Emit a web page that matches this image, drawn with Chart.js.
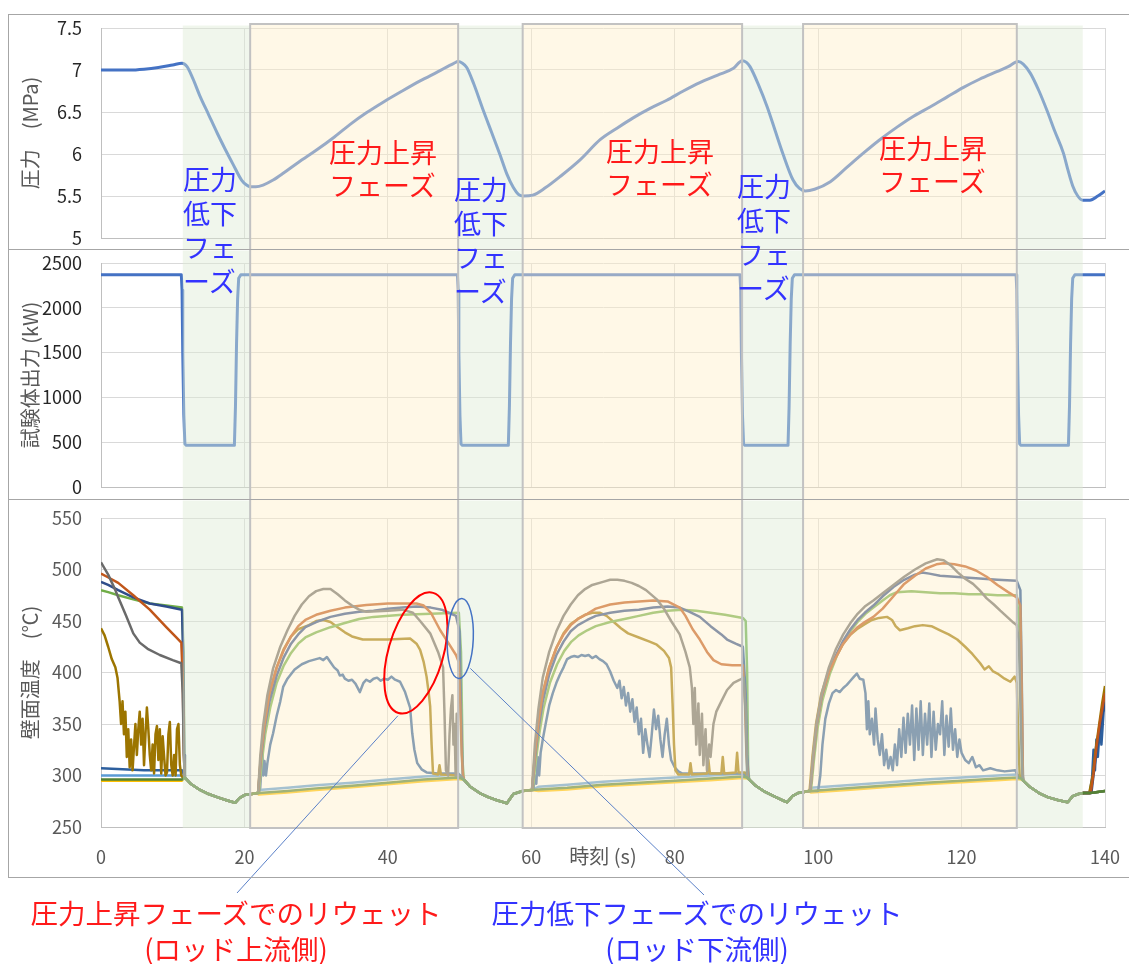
<!DOCTYPE html>
<html lang="ja">
<head>
<meta charset="UTF-8">
<title>圧力・試験体出力・壁面温度の時間変化</title>
<script src="https://cdn.jsdelivr.net/npm/chart.js"></script>
<style>
  body { margin: 0; background: #fff; width: 1129px; height: 964px; overflow: hidden; position: relative;
         font-family: 'Noto Sans CJK JP', 'Noto Sans', sans-serif; }
  canvas { position: absolute; left: 0; }
  .frame { position: absolute; left: 8px; width: 1130px; border: 1px solid #a6a6a6; box-sizing: border-box; pointer-events: none; }
  .note { position: absolute; font-size: 27px; white-space: pre; }
  .blue { color: #3333ff; line-height: 34px; }
  .red { color: #ff1a1a; line-height: 33px; }
  .caption { position: absolute; font-size: 27.5px; line-height: 36px; text-align: center; white-space: pre; }
</style>
</head>
<body>
<canvas id="pressureChart" width="1129" height="235" style="top:14px"></canvas>
<canvas id="powerChart" width="1129" height="250" style="top:249px"></canvas>
<canvas id="tempChart" width="1129" height="465" style="top:499px"></canvas>

<div class="frame" style="top:14px;height:236px;border-bottom:none"></div>
<div class="frame" style="top:249px;height:251px;border-bottom:none"></div>
<div class="frame" style="top:499px;height:379px"></div>

<div class="note red" style="left:329px;top:135px">圧力上昇
フェーズ</div>
<div class="note red" style="left:606px;top:134px">圧力上昇
フェーズ</div>
<div class="note red" style="left:879px;top:131px">圧力上昇
フェーズ</div>
<div class="note blue" style="left:183px;top:162px">圧力
低下
フェ
ーズ</div>
<div class="note blue" style="left:454px;top:172px">圧力
低下
フェ
ーズ</div>
<div class="note blue" style="left:737px;top:169px">圧力
低下
フェ
ーズ</div>

<div class="caption" style="left:-1px;width:474px;top:894px;color:#ff1a1a">圧力上昇フェーズでのリウェット
(ロッド上流側)</div>
<div class="caption" style="left:447px;width:500px;top:894px;color:#3333ff">圧力低下フェーズでのリウェット
(ロッド下流側)</div>

<script>
// phase boundaries (s)
const dropPhases = [[11.4, 20.8], [49.8, 58.8], [89.4, 97.9], [127.7, 136.9]];
const risePhases = [[20.8, 49.8], [58.8, 89.4], [97.9, 127.7]];

// pressure (MPa)
const pressure = [[0,7.0],[4,7.0],[6,7.01],[8,7.03],[10,7.06],[11.3,7.08],[12,7.04],[12.8,6.9],[13.8,6.69],[15,6.47],
  [16.2,6.25],[17.3,6.06],[18.4,5.88],[19.6,5.69],[20.3,5.63],[20.8,5.61],[21.6,5.61],[22.6,5.63],[24,5.69],[25.4,5.77],
  [27.5,5.9],[30.1,6.05],[32.5,6.2],[34.7,6.35],[37,6.49],[39.4,6.62],[42,6.75],[44.5,6.87],[47,6.98],[49.2,7.08],[49.8,7.1],
  [50.4,7.08],[51,7.03],[52,6.83],[53.3,6.52],[54.5,6.25],[55.6,6.0],[56.6,5.76],[57.5,5.6],[58.2,5.52],[58.9,5.5],
  [60.2,5.51],[62,5.6],[64,5.73],[66.8,5.93],[69.6,6.17],[72,6.31],[74.2,6.43],[76.5,6.54],[78.9,6.64],[81.2,6.75],
  [83.5,6.85],[86,6.94],[88.2,7.02],[89.4,7.11],[90,7.09],[90.5,7.04],[91.7,6.82],[92.9,6.56],[94,6.28],[95.1,6.0],
  [96.5,5.69],[97.4,5.59],[98.2,5.56],[99.5,5.58],[101.7,5.67],[104,5.84],[106.3,6.01],[108.6,6.17],[111,6.32],
  [113.3,6.45],[115.6,6.56],[118,6.68],[120.2,6.79],[122.5,6.89],[124.9,6.98],[126.5,7.04],[127.9,7.1],[128.6,7.07],
  [129.6,6.96],[130.8,6.75],[131.9,6.52],[133,6.27],[134.2,6.01],[134.8,5.82],[135.5,5.62],[136.2,5.5],[136.9,5.45],
  [137.9,5.45],[139,5.5],[140,5.56]];

// test section power (kW)
const power = [[0,2370],[11.2,2370],[11.3,2200],[11.4,1500],[11.55,800],[11.7,480],[11.9,465],[18.6,465],[18.75,900],
  [18.9,1600],[19.05,2100],[19.2,2330],[19.5,2370],[49.7,2370],[49.8,2200],[49.9,1500],[50.05,800],[50.2,480],[50.4,465],
  [56.8,465],[56.95,900],[57.1,1600],[57.25,2100],[57.4,2330],[57.7,2370],[89.1,2370],[89.2,2200],[89.3,1500],[89.45,800],
  [89.6,480],[89.8,465],[95.8,465],[95.95,900],[96.1,1600],[96.25,2100],[96.4,2330],[96.7,2370],[127.6,2370],[127.7,2200],
  [127.8,1500],[127.95,800],[128.1,480],[128.3,465],[134.9,465],[135.05,900],[135.2,1600],[135.35,2100],[135.5,2330],
  [135.8,2370],[140,2370]];

// wall temperature (°C): shared cool-down and baseline stretches
const coolDown1 = [[11.7,298],[12.5,292],[13.8,286],[15,282],[16.2,279],[17.5,276],[18.7,273.5],[19.3,278],[20,281],[21,282],[21.8,283]];
const base1 = [[22,283],[26,285],[30,287.5],[35,290],[40,293],[45,296],[49.8,298],[50.3,297]];
const coolDown2 = [[50.6,296],[51.5,289],[52.8,283],[54,279],[55.2,276],[56.6,273],[57.5,282],[58.8,285],[60,286]];
const base2 = [[61,286.5],[65,288],[70,291],[75,293],[80,295],[85,297],[89.5,299],[90.1,298]];
const coolDown3 = [[90.4,296],[91.3,290],[92.6,284],[93.8,280],[95,276],[95.7,274],[96.4,280],[97.2,283],[98,284],[98.7,285]];
const base3 = [[99,285],[105,288],[110,290.5],[115,293],[120,295],[125,297],[127.7,298],[128.3,297]];
const coolDown4 = [[128.6,295],[129.5,289],[130.8,283],[132,279],[133.5,276],[134.8,274],[135.5,280],[136.3,282],[137,283],[137.8,283]];
const base4 = [[138.5,283.5],[140,285]];

const lightBlueStart = [[0,300],[11.3,300]];
const lightBlue1 = [[22,286],[26,288],[30,290.5],[35,293],[40,296],[45,299],[49.8,301],[50.3,299]];
const lightBlue2 = [[61,289],[65,291],[70,294],[75,296],[80,298],[85,300],[89.5,302],[90.1,300]];
const lightBlue3 = [[99,288],[105,291],[110,293.5],[115,296],[120,298],[125,300],[127.7,301],[128.3,299]];
const darkGreenStart = [[0,296],[11.3,296]];
const yellowStart = [[0,295],[11.3,295]];
const yellowLow1 = [[22,281.5],[26,283.5],[30,286],[35,288.5],[40,291.5],[45,294.5],[49.8,296.5],[50.3,296]];
const yellowLow2 = [[61,285],[65,286.5],[70,289.5],[75,291.5],[80,293.5],[85,295.5],[89.5,297.5],[90.1,297]];
const yellowLow3 = [[99,283.5],[105,286.5],[110,289],[115,291.5],[120,293.5],[125,295.5],[127.7,296.5],[128.3,296]];

const grayStart = [[0,507],[1,495],[2,480],[2.4,473],[3.5,455],[4.5,438],[5.4,429],[6.5,423],[8.2,417],[10,412],[11.2,409],[11.4,380],[11.55,320]];
const grayRise1 = [[21.9,283],[22.2,318],[22.6,348],[23.2,378],[24,404],[25,425],[26,441],[27,455],[28,466],[29,474],[30,479],
  [31,481],[32,481],[33,476],[34,470],[35,465],[36,461],[37,459],[40,460],[42,461],[43.5,458],[44.5,450],[45.9,438],[47,420],
  [47.7,405],[47.9,360],[48.1,305],[48.4,300],[48.6,340],[48.8,365],[49,378],[49.15,330],[49.3,350],[49.45,300],[49.6,360],
  [49.75,300],[50.3,299]];
const grayRise2 = [[60.1,286],[60.5,330],[61,365],[61.6,395],[62.5,420],[63.5,440],[64.5,455],[65.5,466],[66.5,475],[67.5,481],
  [68.5,485],[70,488],[71,490],[72,490],[73,489],[74,487],[75,484],[76,480],[77.5,471],[78.5,462],[79.5,450],[80.7,437],
  [81.5,420],[82.1,405],[82.4,385],[82.6,350],[82.8,385],[83,330],[83.3,370],[83.5,320],[83.8,360],[84,310],[84.3,345],
  [84.5,305],[84.8,330],[85,318],[85.4,350],[85.8,362],[86.5,372],[87.3,383],[88.2,390],[89.1,393],[89.6,395],[89.9,360],[90.1,300]];
const grayRise3 = [[98.9,285],[99.3,320],[99.8,352],[100.5,380],[101.5,405],[102.5,423],[103.5,437],[104.5,448],[105.5,457],
  [106.5,464],[107.7,470],[109,477],[110.5,485],[112,493],[113.5,500],[115,506],[116.6,510],[117.5,509],[118.5,504],
  [119.5,497],[120.5,491],[121.6,486],[122.5,480],[123.5,472],[124.5,466],[125.4,460],[126.5,453],[127.3,448],[127.7,446],
  [128,430],[128.3,340],[128.5,300]];

const orangeStart = [[0,496],[1.1,492],[2.4,487],[4.5,475],[6.8,461],[9.1,444],[10.5,434],[11.2,429],[11.4,395],[11.55,320]];
const orangeRise1 = [[21.9,283],[22.3,320],[22.8,350],[23.5,380],[24.5,405],[25.5,422],[26.5,435],[27.5,445],[28.5,451],
  [30,456],[32,460],[34,463],[37,465.5],[40,467],[44,467],[45,465],[46,458],[47.3,441],[48.5,428],[49.5,417],[49.9,410],
  [50.1,370],[50.3,320],[50.5,298]];
const orangeRise2 = [[60.1,286],[60.5,320],[61,352],[61.6,380],[62.5,405],[63.5,424],[64.5,437],[65.5,446],[66.5,452],
  [67.8,457],[69,462],[71,466],[73,468],[75,469],[77,470],[79,469],[80.7,463],[81.5,455],[82.5,442],[83.5,432],[84.5,420],
  [85.4,412],[86.5,408],[88,407],[89.5,407],[89.8,370],[90,320],[90.2,298]];
const orangeRise3 = [[98.9,285],[99.3,318],[99.8,350],[100.5,378],[101.5,400],[102.5,415],[103.5,428],[104.5,437],[105.5,444],
  [106.5,449],[107.7,454],[109,462],[110.5,474],[112,486],[113.5,494],[115,501],[116.5,505],[117.5,506],[119,505],[120.5,503],
  [122,499],[123.5,493],[125,485],[126.5,478],[127.7,473],[128.2,465],[128.4,380],[128.55,300]];
const orangeTail = [[138,283],[138.4,302],[138.8,327],[139.3,352],[140,380]];

const darkBlueStart = [[0,488],[1,485],[2.4,480],[4.5,473],[6.8,467],[9.1,464],[11.3,461],[11.45,420],[11.6,320]];
const darkBlueRise1 = [[21.9,283],[22.3,315],[22.8,345],[23.5,372],[24.5,397],[25.5,415],[26.5,428],[27.5,437],[28.5,444],
  [30,449],[32,454],[34,457],[36,459],[38,460],[40,462],[42,463],[44,464],[46,463],[47.5,461],[48.5,458],[49.5,455],[50,440],
  [50.2,360],[50.45,298]];
const darkBlueRise2 = [[60.1,286],[60.5,315],[61,345],[61.6,372],[62.5,398],[63.5,417],[64.5,430],[65.5,440],[66.5,446],
  [67.8,451],[69,455],[71,458],[73,460],[75,461],[77,463],[79,464],[80.7,463],[82,459],[83.5,454],[85,445],[86.5,437],
  [87.3,432],[88.5,428],[89.5,425],[89.9,380],[90.1,320],[90.3,298]];
const darkBlueRise3 = [[98.9,285],[99.3,316],[99.8,348],[100.5,376],[101.5,400],[102.5,417],[103.5,431],[104.5,442],
  [105.5,451],[106.5,458],[107.7,465],[109,474],[110.5,483],[112,490],[113.5,495],[114.5,497],[115.5,496],[117,494],
  [119,493],[121,492],[123,491],[125,490],[127.7,489],[128.2,480],[128.4,390],[128.55,300]];
const darkBlueTail = [[138.1,283],[138.6,312],[139.1,338],[139.6,358],[140,372]];

const greenStart = [[0,480],[1,478],[2.4,475],[4.5,471],[6.8,467],[9.1,465],[11.3,463],[11.5,420],[11.62,320]];
const greenRise1 = [[22,283],[22.4,312],[22.9,340],[23.6,366],[24.5,390],[25.5,407],[26.5,419],[27.5,428],[28.5,434],
  [30,439],[32,444],[34,448],[36,452],[38,454],[42,456],[46,457],[49.9,458],[50.2,420],[50.45,310]];
const greenRise2 = [[60.2,286],[60.6,312],[61.1,340],[61.7,365],[62.6,390],[63.6,408],[64.6,421],[65.6,430],[66.6,436],
  [67.8,441],[69,445],[71,449],[73,452],[75,455],[77,458],[79,460],[81,461],[83,460],[85,458],[87,456],[89.5,453],
  [89.9,450],[90.1,400],[90.25,305]];
const greenRise3 = [[99,285],[99.4,314],[99.9,345],[100.6,373],[101.6,398],[102.6,416],[103.6,430],[104.6,441],[105.6,450],
  [106.6,457],[107.7,463],[109,470],[110,475],[111,478],[113,479],[115,478],[117,477],[119,477],[121,476],[123,476],
  [125,475],[127.7,475],[128.1,440],[128.3,360],[128.5,300]];

const goldStart = [[0,443],[0.5,436],[1,425],[1.5,413],[2,405],[2.3,395],[2.6,372],[2.8,350],[3,372],[3.2,340],[3.4,362],
  [3.6,318],[3.8,345],[4,308],[4.2,335],[4.4,305],[4.6,328],[4.8,350],[5,320],[5.2,345],[5.4,362],[5.6,330],[5.8,355],
  [6,310],[6.2,340],[6.4,366],[6.6,345],[6.8,320],[7,305],[7.2,330],[7.4,302],[7.6,340],[7.8,348],[8,315],[8.2,345],
  [8.4,302],[8.6,338],[8.8,318],[9,300],[9.2,303],[9.4,340],[9.6,352],[9.8,310],[10,300],[10.2,320],[10.4,300],[10.6,345],
  [10.8,350],[11,310],[11.2,300],[11.4,298]];
const goldRise1 = [[21.9,283],[22.3,318],[22.8,350],[23.5,380],[24.5,405],[25.5,423],[26.5,435],[27.5,442],[29,446],
  [30,450],[31,451],[32,449],[33,444],[34,439],[35,435],[36.5,432],[40,432],[43.1,433],[44,428],[44.5,422],[45,410],
  [45.4,396],[45.7,380],[45.9,367],[46.1,330],[46.3,302],[47,301],[47.2,310],[47.4,301],[49.8,300]];
const goldRise2 = [[60.1,286],[60.5,318],[61,350],[61.6,380],[62.5,405],[63.5,424],[64.5,438],[65.5,447],[66.5,452],
  [67.5,456],[68.5,458],[69.6,458],[70.5,455],[71.5,449],[72.5,443],[73.5,438],[75,434],[76.5,430],[77.5,427],[78.5,421],
  [79.2,414],[79.5,405],[79.7,370],[79.9,330],[80.1,305],[80.5,301],[82,301],[82.2,312],[82.4,301],[84.5,302],[84.7,315],
  [84.9,302],[86.5,302],[86.7,318],[86.9,302],[88.5,303],[88.7,322],[88.9,303],[89.8,303]];
const goldRise3 = [[98.8,285],[99.2,318],[99.7,350],[100.4,378],[101.4,400],[102.4,415],[103.4,427],[104.4,436],[105.4,442],
  [106.5,447],[107.5,451],[108.5,453],[109.6,454],[110.3,451],[110.8,445],[111.4,441],[112.5,443],[113.5,445],[114.6,446],
  [115.8,445],[117,441],[118.2,437],[119.4,432],[120.5,425],[121.5,418],[122.6,409],[123.2,403],[123.8,406],[124.4,401],
  [125,399],[126,394],[126.8,391],[127.4,396],[127.7,390],[127.9,340],[128.1,300],[128.4,299]];
const goldTail = [[137.9,283],[138.3,300],[138.7,325],[139.2,350],[139.6,370],[140,387]];

const blueStart = [[0,307],[3,306],[6,305],[9,305],[11.3,305],[11.5,302]];
const blueRise1 = [[22,283],[22.2,288],[22.35,305],[22.5,320],[22.65,300],[22.8,314],[23,300],[23.2,312],[23.6,330],
  [24,341],[24.5,358],[25,372],[25.4,386],[26,394],[27,403],[28,408],[29,411],[30,413],[30.5,414],[31,412],[31.5,415],
  [32,410],[32.5,405],[33,402],[33.3,397],[33.7,398],[34,394],[34.5,392],[35,393],[35.5,389],[36.1,381],[36.6,390],
  [37,393],[37.5,391],[38,394],[38.5,395],[39,392],[39.5,394],[40,393],[40.5,396],[41,393],[41.7,391],[42.4,381],[43.1,366],
  [43.4,341],[43.7,325],[44.1,312],[44.7,306],[45.4,303],[47,302],[49.8,302]];
const blueRise2 = [[60.3,286],[60.5,300],[60.7,292],[60.9,318],[61.1,300],[61.3,322],[61.6,335],[62,350],[62.5,368],[63,380],
  [63.5,390],[64,398],[64.5,405],[65,413],[65.5,415],[66,416],[66.5,415],[67,417],[67.5,416],[68,417],[68.5,414],[69,416],
  [69.5,413],[70,411],[70.5,408],[71,401],[71.5,392],[72,385],[72.3,392],[72.6,375],[72.9,386],[73.2,368],[73.5,380],
  [73.8,362],[74.1,374],[74.4,352],[74.7,366],[75,340],[75.3,355],[75.6,322],[75.9,345],[76.2,330],[76.5,318],[76.8,340],
  [77.1,364],[77.4,345],[77.7,358],[78,335],[78.3,318],[78.6,340],[78.9,355],[79.2,330],[79.5,315],[80,308],[80.5,304],
  [81,302],[85,302],[89.5,302]];
const blueRise3 = [[100,285],[100.3,300],[100.6,330],[101,355],[101.5,370],[102,380],[102.5,383],[103,381],[103.5,385],
  [104,388],[104.5,392],[105,396],[105.4,399],[105.8,394],[106.3,393],[106.6,380],[106.8,345],[107,372],[107.2,340],
  [107.5,355],[107.8,330],[108,365],[108.3,335],[108.6,320],[108.9,340],[109.2,310],[109.5,325],[109.8,307],[110.1,318],
  [110.4,305],[110.7,330],[111,310],[111.3,345],[111.6,318],[111.9,356],[112.2,322],[112.5,360],[112.8,330],[113.1,368],
  [113.4,315],[113.7,365],[114,325],[114.3,372],[114.6,320],[114.9,360],[115.2,330],[115.5,370],[115.8,318],[116.1,362],
  [116.4,325],[116.7,350],[117,340],[117.3,372],[117.6,320],[117.9,358],[118.2,328],[118.5,365],[118.8,325],[119.1,345],
  [119.4,318],[119.7,335],[120,322],[120.5,315],[121,312],[121.5,318],[122,308],[122.5,310],[123,305],[124,307],[125,305],
  [126,304],[127.5,305],[127.8,300],[128.3,299]];
const blueTail = [[137.9,284],[138.2,298],[138.4,325],[138.6,305],[138.8,335],[139,318],[139.3,350],[139.5,330],[139.8,362],[140,368]];

// callout anchors in data units [time, temperature]
const upstreamRewet = [43.9, 419];
const downstreamRewet = [50.1, 433];
const upstreamLeader = [41.4, 358];
const downstreamLeader = [51.5, 404];

Chart.defaults.font.family = "'Noto Sans CJK JP', 'Noto Sans', sans-serif";
Chart.defaults.font.size = 18;

const toXY = pts => pts.map(([x, y]) => ({ x, y }));

// transparent phase overlays drawn over the traces, like the shaded boxes of the original
const phaseShade = {
  id: 'phaseShade',
  afterDatasetsDraw(chart, args, opts) {
    const { ctx, chartArea, scales: { x } } = chart;
    const top = opts.top;
    const bottom = opts.toArea ? chartArea.bottom + 1 : chart.height;
    ctx.save();
    ctx.fillStyle = 'rgba(222,235,213,0.45)';
    dropPhases.forEach(([a, b]) => {
      const x0 = x.getPixelForValue(a), x1 = x.getPixelForValue(b);
      ctx.fillRect(x0, top + 1.5, x1 - x0, bottom - top - 1.5);
    });
    ctx.fillStyle = 'rgba(255,239,202,0.45)';
    risePhases.forEach(([a, b]) => {
      const x0 = x.getPixelForValue(a), x1 = x.getPixelForValue(b);
      ctx.fillRect(x0, top, x1 - x0, bottom - top);
    });
    ctx.strokeStyle = '#c2c2c2';
    ctx.lineWidth = 2;
    risePhases.forEach(([a, b]) => {
      const x0 = x.getPixelForValue(a), x1 = x.getPixelForValue(b);
      ctx.beginPath();
      ctx.moveTo(x0, top); ctx.lineTo(x0, bottom);
      ctx.moveTo(x1, top); ctx.lineTo(x1, bottom);
      if (opts.topEdge) { ctx.moveTo(x0 - 1, top); ctx.lineTo(x1 + 1, top); }
      if (opts.toArea) { ctx.moveTo(x0 - 1, bottom); ctx.lineTo(x1 + 1, bottom); }
      ctx.stroke();
    });
    ctx.restore();
  }
};

const callouts = {
  id: 'callouts',
  afterDraw(chart) {
    const { ctx, scales: { x, y } } = chart;
    const offset = chart.canvas.offsetTop;
    ctx.save();
    ctx.strokeStyle = '#5a80c8';
    ctx.lineWidth = 1;
    ctx.beginPath();
    ctx.moveTo(x.getPixelForValue(upstreamLeader[0]), y.getPixelForValue(upstreamLeader[1]));
    ctx.lineTo(237, 893 - offset);
    ctx.moveTo(x.getPixelForValue(downstreamLeader[0]), y.getPixelForValue(downstreamLeader[1]));
    ctx.lineTo(704, 895 - offset);
    ctx.stroke();

    ctx.strokeStyle = '#ff0000';
    ctx.lineWidth = 2;
    ctx.beginPath();
    ctx.ellipse(x.getPixelForValue(upstreamRewet[0]), y.getPixelForValue(upstreamRewet[1]), 62.5, 27.5, -1.29, 0, Math.PI * 2);
    ctx.stroke();

    ctx.strokeStyle = '#4472c4';
    ctx.lineWidth = 1.5;
    ctx.beginPath();
    ctx.ellipse(x.getPixelForValue(downstreamRewet[0]), y.getPixelForValue(downstreamRewet[1]), 13, 40, 0.04, 0, Math.PI * 2);
    ctx.stroke();
    ctx.restore();
  }
};

function xAxis(showLabels) {
  const axis = {
    type: 'linear', min: 0, max: 140,
    ticks: { stepSize: 20, display: showLabels, color: '#595959', padding: 19, maxRotation: 0 },
    grid: { color: '#d9d9d9', drawTicks: false },
    border: { color: '#bfbfbf' },
    afterFit: s => { s.height = showLabels ? 50 : 0; s.paddingLeft = 0; s.paddingRight = 0; }
  };
  if (showLabels) {
    axis.title = { display: true, text: '時刻 (s)', color: '#595959', font: { size: 20 }, padding: { top: 0, bottom: 9 } };
  }
  return axis;
}

function yAxis(min, max, step, title, tickColor) {
  return {
    min, max,
    ticks: { stepSize: step, color: tickColor, padding: 19, callback: v => String(v) },
    grid: { color: '#d9d9d9', drawTicks: false },
    border: { color: '#bfbfbf' },
    title: { display: true, text: title, color: '#595959', font: { size: 20 }, padding: { top: 18, bottom: 0 } },
    afterFit: s => { s.width = 101; s.paddingTop = 0; s.paddingBottom = 0; }
  };
}

function baseOptions(padTop, padBottom, shade, xLabels, y) {
  return {
    responsive: false,
    animation: false,
    devicePixelRatio: 1,
    layout: { padding: { left: 0, right: 24, top: padTop, bottom: padBottom } },
    elements: { point: { radius: 0 }, line: { borderJoinStyle: 'round', cubicInterpolationMode: 'monotone' } },
    plugins: { legend: { display: false }, tooltip: { enabled: false }, phaseShade: shade },
    scales: { x: xAxis(xLabels), y }
  };
}

new Chart(document.getElementById('pressureChart'), {
  type: 'line',
  data: { datasets: [{ data: toXY(pressure), borderColor: '#4472c4', borderWidth: 3 }] },
  options: baseOptions(14, 11, { top: 10, topEdge: true }, false, yAxis(5, 7.5, 0.5, '圧力　(MPa)', '#262626')),
  plugins: [phaseShade]
});

new Chart(document.getElementById('powerChart'), {
  type: 'line',
  data: { datasets: [{ data: toXY(power), borderColor: '#4472c4', borderWidth: 3, cubicInterpolationMode: 'default', tension: 0 }] },
  options: baseOptions(14, 12, { top: 0 }, false, yAxis(0, 2500, 500, '試験体出力 (kW)', '#262626')),
  plugins: [phaseShade]
});

// listed top-most first (Chart.js paints the first dataset last)
const tempSeries = [
  { color: '#548235', pts: [...darkGreenStart, ...coolDown1, ...base1, ...coolDown2, ...base2, ...coolDown3, ...base3, ...coolDown4, ...base4] },
  { color: '#6a6a6a', pts: [...grayStart, ...coolDown1, ...grayRise1, ...coolDown2, ...grayRise2, ...coolDown3, ...grayRise3, ...coolDown4, ...base4] },
  { color: '#c0561a', pts: [...orangeStart, ...coolDown1, ...orangeRise1, ...coolDown2, ...orangeRise2, ...coolDown3, ...orangeRise3, ...coolDown4, ...orangeTail] },
  { color: '#2f4d8a', pts: [...darkBlueStart, ...coolDown1, ...darkBlueRise1, ...coolDown2, ...darkBlueRise2, ...coolDown3, ...darkBlueRise3, ...coolDown4, ...darkBlueTail] },
  { color: '#70ad47', pts: [...greenStart, ...coolDown1, ...greenRise1, ...coolDown2, ...greenRise2, ...coolDown3, ...greenRise3, ...coolDown4, ...base4] },
  { color: '#9c7500', pts: [...goldStart, ...coolDown1, ...goldRise1, ...coolDown2, ...goldRise2, ...coolDown3, ...goldRise3, ...coolDown4, ...goldTail] },
  { color: '#2d5f9e', pts: [...blueStart, ...coolDown1, ...blueRise1, ...coolDown2, ...blueRise2, ...coolDown3, ...blueRise3, ...coolDown4, ...blueTail] },
  { color: '#5b9bd5', pts: [...lightBlueStart, ...coolDown1, ...lightBlue1, ...coolDown2, ...lightBlue2, ...coolDown3, ...lightBlue3, ...coolDown4, ...base4] },
  { color: '#ffc000', pts: [...yellowStart, ...coolDown1, ...yellowLow1, ...coolDown2, ...yellowLow2, ...coolDown3, ...yellowLow3, ...coolDown4, ...base4] }
];

new Chart(document.getElementById('tempChart'), {
  type: 'line',
  data: {
    datasets: tempSeries.map(s => ({
      data: toXY(s.pts), borderColor: s.color, borderWidth: 2.5, cubicInterpolationMode: 'default', tension: 0
    }))
  },
  options: baseOptions(19, 87, { top: 0, toArea: true }, true, yAxis(250, 550, 50, '壁面温度　(℃)', '#595959')),
  plugins: [phaseShade, callouts]
});
</script>
</body>
</html>
